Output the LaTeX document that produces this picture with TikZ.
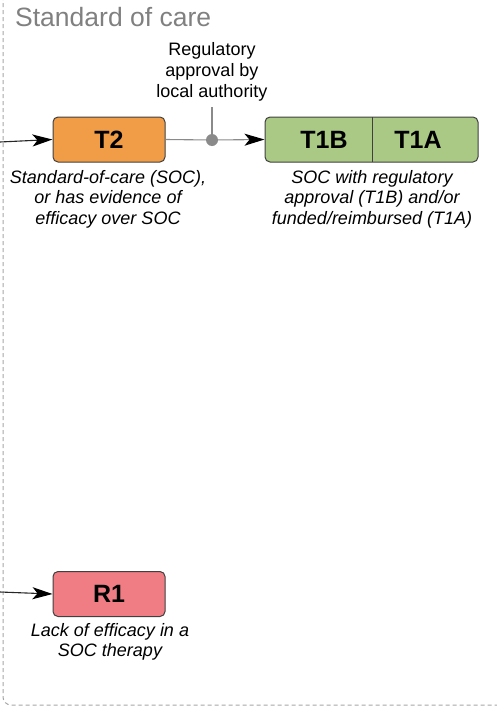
\documentclass[tikz,border=0pt]{standalone}
\usepackage{fontspec}
\setmainfont{Liberation Sans}
\usetikzlibrary{arrows.meta}
\definecolor{socorange}{HTML}{F19D48}
\definecolor{socgreen}{HTML}{A9C985}
\definecolor{socred}{HTML}{F07C84}
\definecolor{linegray}{HTML}{8A8A8A}
\begin{document}
\begin{tikzpicture}[x=1pt,y=-1pt,
 tier/.style={draw=black!75,line width=1pt,rounded corners=5pt,minimum height=45pt,inner sep=0pt,font=\fontsize{25}{30}\selectfont\bfseries},
 tiertext/.style={inner sep=0pt,font=\fontsize{25}{30}\selectfont\bfseries},
 note/.style={align=center,inner sep=0pt,font=\fontsize{18}{20.5}\selectfont\itshape},
 link/.style={line width=1.1pt,-{Stealth[length=20pt,width=12pt,inset=5pt,color=black]}}]
 \useasboundingbox (0,0) rectangle (497,707);
 \begin{scope}
 \clip (0,0) rectangle (497,707);
 \draw[gray!70,line width=1pt,dash pattern=on 4pt off 3pt,rounded corners=8pt] (3,-40) rectangle (540,705);
 \end{scope}
 \node[anchor=north west,inner sep=0pt,text=gray,font=\fontsize{26.5}{30}\selectfont] (title) at (15,7) {Standard of care};

 \node[tier,fill=socorange,minimum width=112pt] (t2) at (109,139.5) {T2};
 \node[note,anchor=north] (t2note) at (108,170) {Standard-of-care (SOC),\\or has evidence of\\efficacy over SOC};

 \node[tier,fill=socgreen,minimum width=213pt] (t1) at (371.5,139.5) {};
 \draw[black!75,line width=1pt] (372,117) -- (372,162);
 \node[tiertext] (t1b) at (324,139.5) {T1B};
 \node[tiertext] (t1a) at (418,139.5) {T1A};
 \node[note,anchor=north] (t1note) at (372,170) {SOC with regulatory\\approval (T1B) and/or\\funded/reimbursed (T1A)};

 \node[tier,fill=socred,minimum width=112pt] (r1) at (109,594) {R1};
 \node[note,anchor=north] (r1note) at (110,623) {Lack of efficacy in a\\SOC therapy};

 \node[align=center,inner sep=0pt,anchor=north,font=\fontsize{18}{21}\selectfont] (reg) at (212,42) {Regulatory\\approval by\\local authority};
 \node[circle,fill=linegray,inner sep=0pt,minimum size=12pt] (gate) at (212,140) {};
 \coordinate (gatetop) at (212,107);
 \draw[linegray,line width=1.1pt] (gatetop) -- (gate);
 \draw[linegray,line width=1.1pt] (t2.east) -- (gate);
 \draw[link,linegray] (gate) -- (t1.west);

 \coordinate (t2in) at (0,142);
 \coordinate (r1in) at (0,592);
 \draw[link,black!85] (t2in) -- (t2.west);
 \draw[link,black!85] (r1in) -- (r1.west);
\end{tikzpicture}
\end{document}
